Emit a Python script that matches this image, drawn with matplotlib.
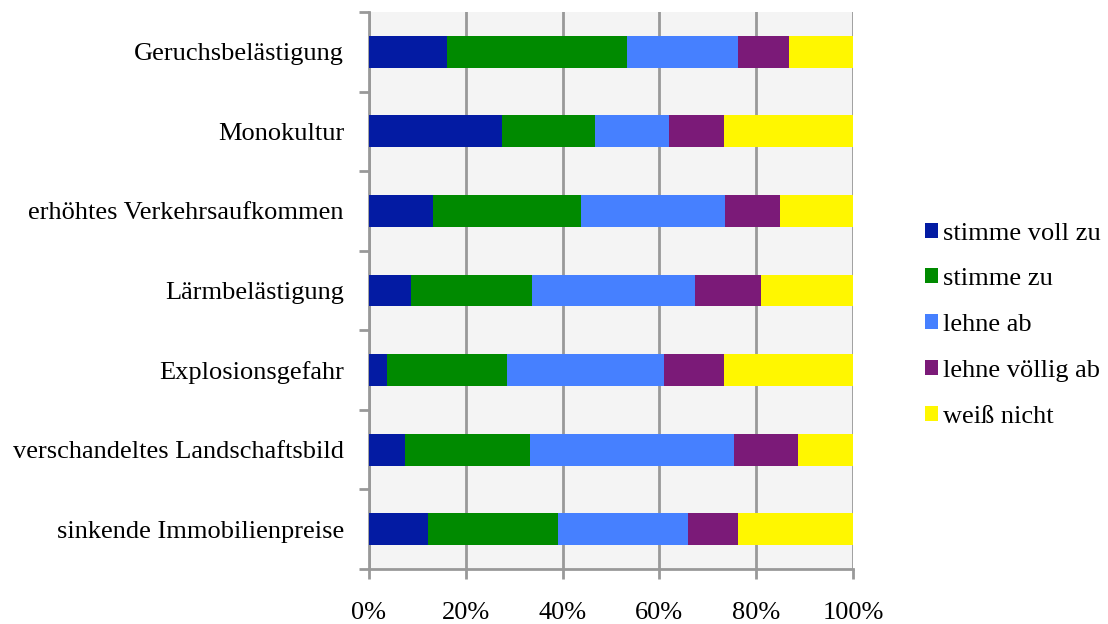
import matplotlib.pyplot as plt
import numpy as np
from matplotlib.ticker import FixedLocator, PercentFormatter

plt.rcParams['font.family'] = ['Liberation Serif', 'DejaVu Serif']

# ---- data (percent shares, top to bottom) ----
categories = ["Geruchsbelästigung", "Monokultur", "erhöhtes Verkehrsaufkommen",
              "Lärmbelästigung", "Explosionsgefahr",
              "verschandeltes Landschaftsbild", "sinkende Immobilienpreise"]
series_names = ["stimme voll zu", "stimme zu", "lehne ab", "lehne völlig ab", "weiß nicht"]
stimme_voll_zu = [16.1, 27.5, 13.2, 8.6, 3.7, 7.4, 12.2]
stimme_zu = [37.2, 19.1, 30.6, 25.1, 24.8, 25.9, 26.8]
lehne_ab = [23.0, 15.4, 29.8, 33.7, 32.5, 42.1, 26.9]
lehne_voellig_ab = [10.5, 11.4, 11.3, 13.5, 12.4, 13.3, 10.4]
weiss_nicht = [13.2, 26.6, 15.1, 19.1, 26.6, 11.3, 23.7]
colors = ["#031ba3", "#008a00", "#4680ff", "#7b1a78", "#fff700"]

series = [stimme_voll_zu, stimme_zu, lehne_ab, lehne_voellig_ab, weiss_nicht]

fig = plt.figure(figsize=(11.08, 6.24), dpi=100)
ax = fig.add_axes([369 / 1108, 1 - 569 / 624, 484 / 1108, 557 / 624])
ax.set_facecolor("#f4f4f4")

y = np.arange(len(categories))
left = np.zeros(len(categories))
for vals, name, col in zip(series, series_names, colors):
    vals = np.array(vals)
    ax.barh(y, vals, left=left, height=0.4, color=col, label=name, zorder=3)
    left += vals

ax.set_xlim(0, 100)
ax.set_ylim(len(categories) - 0.5, -0.5)

ax.xaxis.set_major_locator(FixedLocator([0, 20, 40, 60, 80, 100]))
ax.xaxis.set_major_formatter(PercentFormatter(decimals=0))
ax.grid(axis='x', color='#999999', linewidth=2, zorder=1)

ax.set_yticks(y)
ax.set_yticklabels(categories)
ax.yaxis.set_minor_locator(FixedLocator(np.arange(-0.5, len(categories), 1)))
ax.tick_params(axis='y', which='major', length=0, pad=18, labelsize=19)
ax.tick_params(axis='y', which='minor', length=7, width=2, color='#999999')
ax.tick_params(axis='x', length=7, width=2, color='#999999', pad=17, labelsize=19)

for s in ['top', 'right']:
    ax.spines[s].set_visible(False)
for s in ['left', 'bottom']:
    ax.spines[s].set_color('#999999')
    ax.spines[s].set_linewidth(2)

fig.legend(loc='upper left', bbox_to_anchor=(914 / 1108, 1 - 212 / 624),
           frameon=False, fontsize=19, handlelength=0.5, handleheight=0.5,
           handletextpad=0.2, labelspacing=0.9, borderaxespad=0)

fig.savefig("out.png", dpi=100)
